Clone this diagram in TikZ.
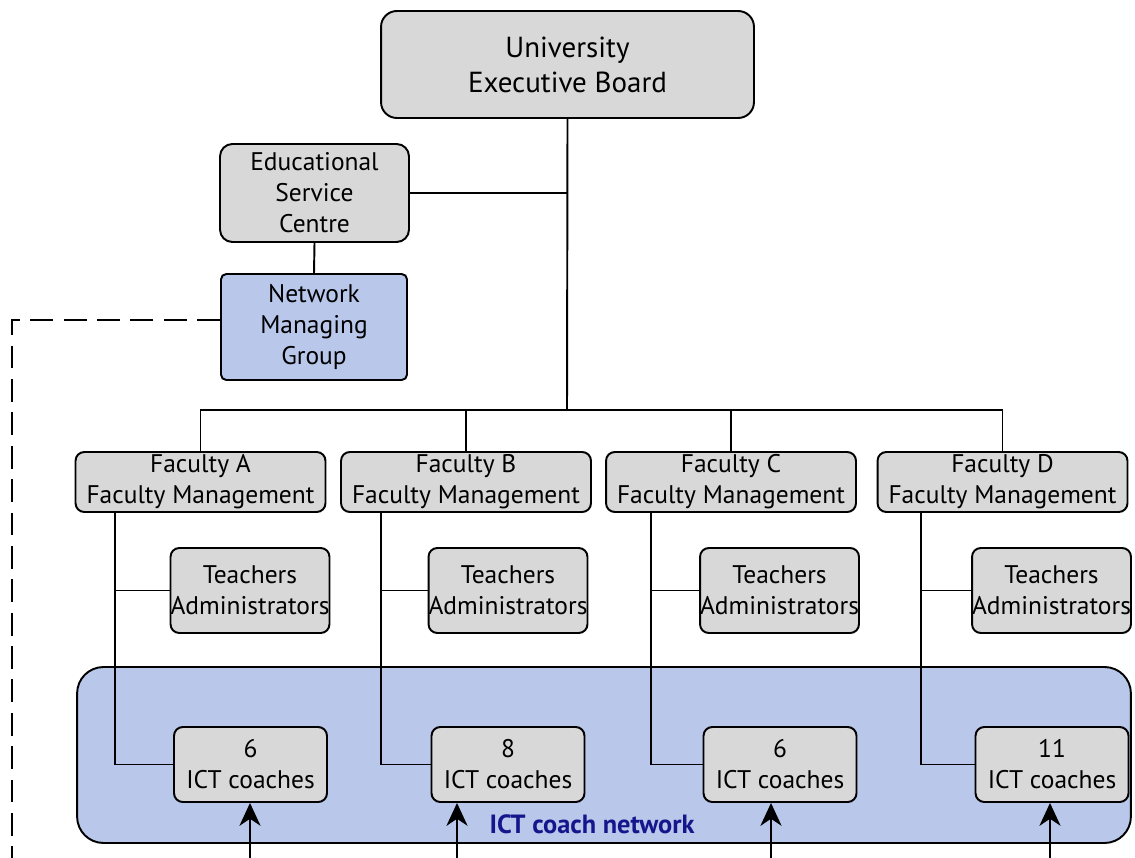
\documentclass[tikz,border=0pt]{standalone}
\usepackage{fontspec}
\setmainfont{PT Sans}
\usetikzlibrary{arrows.meta,calc}
\definecolor{boxgrey}{RGB}{216,216,216}
\definecolor{netblue}{RGB}{184,199,234}
\definecolor{labelblue}{RGB}{22,22,140}
\tikzset{
  box/.style={draw=black, line width=1.1pt, rounded corners=5pt, fill=boxgrey,
    align=center, inner sep=0pt, font=\fontsize{14.5}{17.6}\selectfont},
  bluebox/.style={box, fill=netblue},
  facbox/.style={box, minimum width=5.0cm, minimum height=1.2cm},
  staffbox/.style={box, minimum width=3.06cm, minimum height=1.7cm},
  coachbox/.style={box, minimum width=3.06cm, minimum height=1.5cm},
  link/.style={draw=black, line width=1.1pt},
  feedback/.style={draw=black, line width=1.1pt, dash pattern=on 13pt off 6pt},
  uparrow/.style={draw=black, line width=1.1pt, arrows={-Stealth[length=13pt,width=12pt,inset=4pt]}}
}
\begin{document}
\begin{tikzpicture}[x=0.02cm,y=-0.02cm]
\useasboundingbox (0,0) rectangle (1135,858);

% ICT coach network background
\node[draw=black, line width=1.1pt, fill=netblue, rounded corners=15pt,
  minimum width=21.08cm, minimum height=3.52cm, inner sep=0pt] (net) at (604,755) {};

% top of the hierarchy
\node[box, minimum width=7.46cm, minimum height=2.14cm, rounded corners=9pt,
  font=\fontsize{16.5}{20}\selectfont] (ueb) at (567.5,64.5) {University\\Executive Board};
\node[box, minimum width=3.78cm, minimum height=1.96cm, rounded corners=7pt] (esc) at (314.5,193) {Educational\\Service\\Centre};
\node[bluebox, minimum width=3.72cm, minimum height=2.12cm, rounded corners=3pt] (nmg) at (314,327) {Network\\Managing\\Group};

% faculties
\node[facbox] (facA) at (200.5,482) {Faculty A\\Faculty Management};
\node[facbox] (facB) at (466,482) {Faculty B\\Faculty Management};
\node[facbox] (facC) at (731,482) {Faculty C\\Faculty Management};
\node[facbox] (facD) at (1002.5,482) {Faculty D\\Faculty Management};

% teachers and administrators
\node[staffbox] (staA) at (250,590.5) {Teachers\\Administrators};
\node[staffbox] (staB) at (508,590.5) {Teachers\\Administrators};
\node[staffbox] (staC) at (779.5,590.5) {Teachers\\Administrators};
\node[staffbox] (staD) at (1051.5,590.5) {Teachers\\Administrators};

% ICT coaches
\node[coachbox] (ictA) at (250.5,764.5) {6\\ICT coaches};
\node[coachbox] (ictB) at (508,764.5) {8\\ICT coaches};
\node[coachbox] (ictC) at (780,764.5) {6\\ICT coaches};
\node[coachbox] (ictD) at (1052,764.5) {11\\ICT coaches};

% tree connectors
\coordinate (bus) at (567,410);
\draw[link] (ueb.south) -- (bus);
\draw[link] (esc.east) -- (esc.east -| ueb.south);
\draw[link] (esc.south) -- (nmg.north);
\draw[link] (facA.north) |- (bus -| facD.north) -- (facD.north);
\draw[link] (facB.north) -- (facB.north |- bus);
\draw[link] (facC.north) -- (facC.north |- bus);

% faculty taps down to staff and coaches
\coordinate (tapA) at (115,0);
\coordinate (tapB) at (381,0);
\coordinate (tapC) at (651,0);
\coordinate (tapD) at (921,0);
\foreach \f in {A,B,C,D}{
  \draw[link] (fac\f.south -| tap\f) |- (ict\f.west);
  \draw[link] (tap\f |- sta\f.west) -- (sta\f.west);
}

% managing group feedback to coaches
\coordinate (fbcorner) at (12,320);
\coordinate (fbbottom) at (12,859);
\coordinate (fbend) at (1052,859);
\coordinate (inA) at (250,0);
\coordinate (inB) at (457,0);
\coordinate (inC) at (771,0);
\coordinate (inD) at (1050,0);
\begin{scope}
\clip (0,0) rectangle (1135,858);
\draw[feedback] ($(nmg.west)+(0,-7)$) -- (fbcorner) -- (fbbottom) -- (fbend);
\foreach \f in {A,B,C,D}{
  \draw[uparrow] (in\f |- fbbottom) -- (in\f |- ict\f.south);
}
\end{scope}

\node[font=\fontsize{15}{17}\selectfont\bfseries, text=labelblue, inner sep=0pt] (netlabel) at (592,824) {ICT coach network};
\end{tikzpicture}
\end{document}
